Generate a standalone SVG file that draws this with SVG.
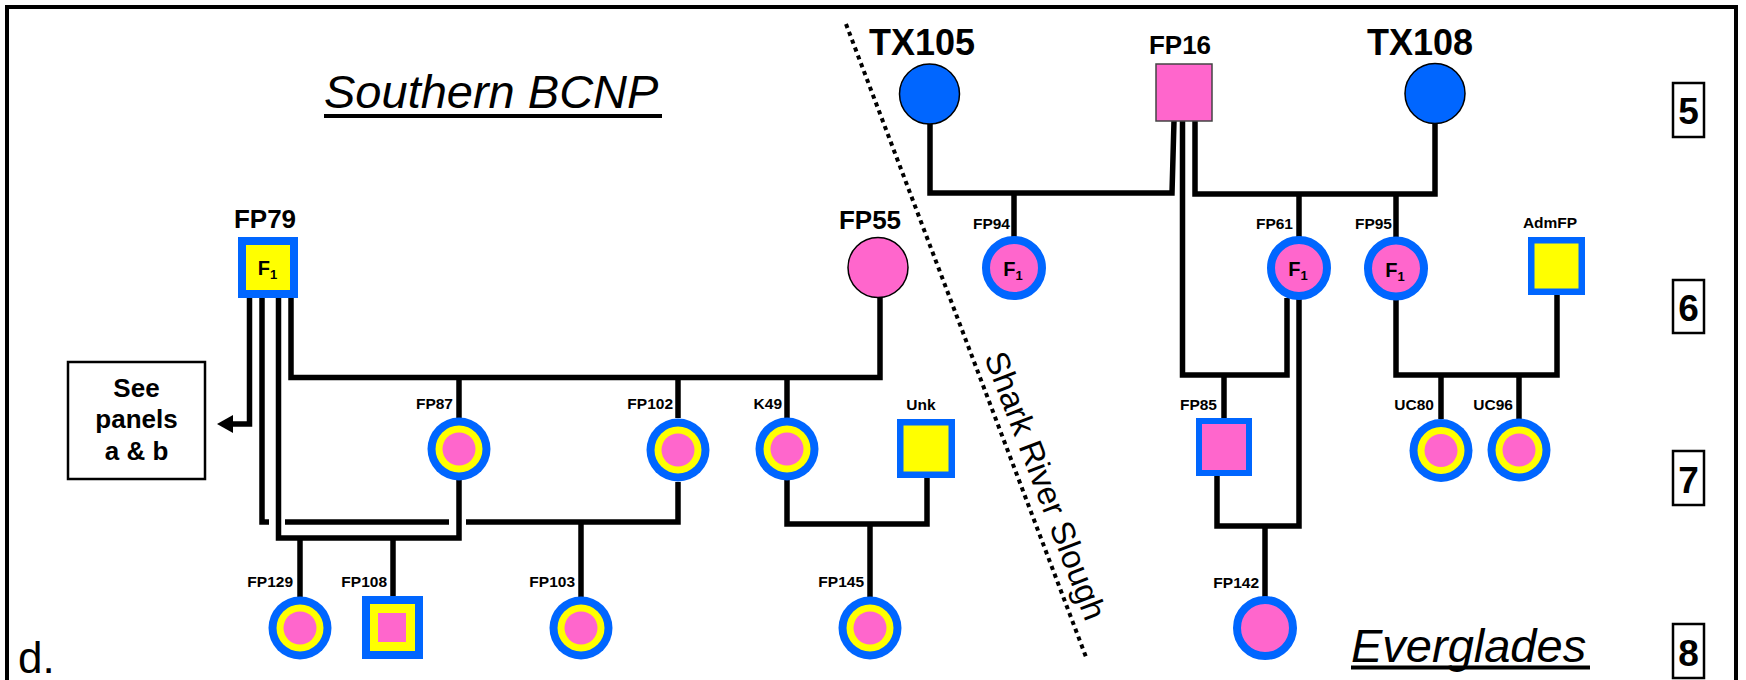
<svg xmlns="http://www.w3.org/2000/svg" xmlns:xlink="http://www.w3.org/1999/xlink" width="1746" height="680" viewBox="0 0 1746 680">
<style>
.ln{fill:none;stroke:#000;stroke-width:5.5;stroke-linejoin:miter;stroke-linecap:butt}
.t{font-family:"Liberation Sans",Arial,sans-serif;fill:#000}
.lbl{font-weight:bold;font-size:15.5px}
.big{font-weight:bold;font-size:26px}
.huge{font-weight:bold;font-size:36px}
.f1{font-weight:bold;font-size:20px}
.sub{font-size:13px}
.gen{font-weight:bold;font-size:37px}
.title{font-style:italic;font-size:47px}
.sq{fill:#FFFF00;stroke:#0066FF}
.box{fill:#fff;stroke:#000;stroke-width:2.5}
</style>
<defs>
<g id="ring3"><circle r="31.5" fill="#0066FF"/><circle r="23.5" fill="#FFFF00"/><circle r="16.5" fill="#FF66CC"/></g>
<g id="f1c"><circle r="28" fill="#FF66CC" stroke="#0066FF" stroke-width="8"/></g>
<marker id="arrow" markerUnits="userSpaceOnUse" markerWidth="17" markerHeight="19" refX="4" refY="9" orient="auto"><path d="M0,0 L16,9 L0,18 z" fill="#000"/></marker>
</defs>
<rect x="0" y="0" width="1746" height="680" fill="#fff"/>
<rect x="7" y="7" width="1729" height="700" fill="none" stroke="#000" stroke-width="4"/>

<g id="labels">
<text class="t title" x="324" y="108">Southern BCNP</text>
<rect x="324" y="114" width="338" height="4" fill="#000"/>
<text class="t title" x="1351" y="662">Everglades</text>
<rect x="1351" y="665.5" width="239" height="4" fill="#000"/>
<text class="t" x="18" y="673" font-size="44">d.</text>
<line x1="846" y1="24" x2="1086" y2="657" stroke="#000" stroke-width="4" stroke-dasharray="4.2 4.2"/>
<text class="t" font-size="33" transform="translate(984,357) rotate(69)">Shark River Slough</text>
</g>

<g id="generations">
<rect class="box" x="1673" y="83" width="31" height="54"/><text class="t gen" x="1688.5" y="124" text-anchor="middle">5</text>
<rect class="box" x="1673" y="280" width="31" height="53"/><text class="t gen" x="1688.5" y="321" text-anchor="middle">6</text>
<rect class="box" x="1673" y="451" width="31" height="54"/><text class="t gen" x="1688.5" y="493" text-anchor="middle">7</text>
<rect class="box" x="1673" y="624" width="31" height="54"/><text class="t gen" x="1688.5" y="666" text-anchor="middle">8</text>
</g>

<g id="connectors">
<path class="ln" d="M249.5,298 V424 H229" marker-end="url(#arrow)"/>
<path class="ln" d="M262,298 V522 H269"/>
<path class="ln" d="M285,522 H449"/>
<path class="ln" d="M466,522 H678 V482"/>
<path class="ln" d="M278.5,298 V538 H459 V480"/>
<path class="ln" d="M291,298 V377.5 H880 V297"/>
<path class="ln" d="M459,377.5 V418"/>
<path class="ln" d="M678,377.5 V418"/>
<path class="ln" d="M787,377.5 V418"/>
<path class="ln" d="M581,522 V597"/>
<path class="ln" d="M300,538 V597"/>
<path class="ln" d="M393,538 V596"/>
<path class="ln" d="M787,480 V524 H927 V478"/>
<path class="ln" d="M870,524 V597"/>
<path class="ln" d="M1174,121 L1172,193 H930 V124"/>
<path class="ln" d="M1182.5,121 V375 H1287 V298"/>
<path class="ln" d="M1195,121 V194 H1435 V123"/>
<path class="ln" d="M1014,193 V237"/>
<path class="ln" d="M1299,194 V237"/>
<path class="ln" d="M1396,194 V237"/>
<path class="ln" d="M1299,299 V526 H1217 V476"/>
<path class="ln" d="M1224,375 V418"/>
<path class="ln" d="M1265,526 V597"/>
<path class="ln" d="M1396,300 V375 H1557 V295"/>
<path class="ln" d="M1441,375 V419"/>
<path class="ln" d="M1519,375 V419"/>
</g>

<g id="seepanels">
<rect class="box" x="68" y="362" width="137" height="117"/>
<text class="t big" x="136.5" y="397" text-anchor="middle">See</text>
<text class="t big" x="136.5" y="428" text-anchor="middle">panels</text>
<text class="t big" x="136.5" y="460" text-anchor="middle">a &amp; b</text>
</g>

<g id="FP79">
<rect class="sq" x="242" y="241" width="52" height="53" stroke-width="8"/>
<text class="t big" x="265" y="228" text-anchor="middle">FP79</text>
<text class="t f1" x="267.5" y="275" text-anchor="middle">F<tspan class="sub" dy="4">1</tspan></text>
</g>
<g id="FP55">
<circle cx="878" cy="267.5" r="30" fill="#FF66CC" stroke="#000" stroke-width="1.5"/>
<text class="t big" x="870" y="229" text-anchor="middle">FP55</text>
</g>
<g id="FP87"><use xlink:href="#ring3" x="459" y="449"/><text class="t lbl" x="453" y="409" text-anchor="end">FP87</text></g>
<g id="FP102"><use xlink:href="#ring3" x="678" y="450"/><text class="t lbl" x="673" y="409" text-anchor="end">FP102</text></g>
<g id="K49"><use xlink:href="#ring3" x="787" y="449"/><text class="t lbl" x="782" y="409" text-anchor="end">K49</text></g>
<g id="Unk">
<rect class="sq" x="900.25" y="422.25" width="51.5" height="52.5" stroke-width="6.5"/>
<text class="t lbl" x="921" y="410" text-anchor="middle">Unk</text>
</g>
<g id="FP129"><use xlink:href="#ring3" x="300" y="628"/><text class="t lbl" x="293" y="587" text-anchor="end">FP129</text></g>
<g id="FP108">
<rect class="sq" x="366" y="600" width="53" height="55" stroke-width="8"/>
<rect x="378" y="613" width="28" height="29" fill="#FF66CC"/>
<text class="t lbl" x="387" y="587" text-anchor="end">FP108</text>
</g>
<g id="FP103"><use xlink:href="#ring3" x="581" y="628"/><text class="t lbl" x="575" y="587" text-anchor="end">FP103</text></g>
<g id="FP145"><use xlink:href="#ring3" x="870" y="628"/><text class="t lbl" x="864" y="587" text-anchor="end">FP145</text></g>

<g id="TX105">
<circle cx="929.5" cy="94" r="30" fill="#0066FF" stroke="#000" stroke-width="1.5"/>
<text class="t huge" x="922" y="55" text-anchor="middle">TX105</text>
</g>
<g id="FP16">
<rect x="1156" y="64" width="56" height="57" fill="#FF66CC" stroke="#444" stroke-width="1.5"/>
<text class="t big" x="1180" y="54" text-anchor="middle">FP16</text>
</g>
<g id="TX108">
<circle cx="1435" cy="93.5" r="30" fill="#0066FF" stroke="#000" stroke-width="1.5"/>
<text class="t huge" x="1420" y="55" text-anchor="middle">TX108</text>
</g>
<g id="FP94">
<use xlink:href="#f1c" x="1014" y="268"/>
<text class="t f1" x="1013" y="276" text-anchor="middle">F<tspan class="sub" dy="4">1</tspan></text>
<text class="t lbl" x="1010" y="229" text-anchor="end">FP94</text>
</g>
<g id="FP61">
<use xlink:href="#f1c" x="1299" y="268"/>
<text class="t f1" x="1298" y="276" text-anchor="middle">F<tspan class="sub" dy="4">1</tspan></text>
<text class="t lbl" x="1293" y="229" text-anchor="end">FP61</text>
</g>
<g id="FP95">
<use xlink:href="#f1c" x="1396" y="268.5"/>
<text class="t f1" x="1395" y="276.5" text-anchor="middle">F<tspan class="sub" dy="4">1</tspan></text>
<text class="t lbl" x="1392" y="229" text-anchor="end">FP95</text>
</g>
<g id="AdmFP">
<rect class="sq" x="1531.25" y="240.25" width="50.5" height="51.5" stroke-width="6.5"/>
<text class="t lbl" x="1550" y="228" text-anchor="middle">AdmFP</text>
</g>
<g id="FP85">
<rect x="1199" y="421" width="50" height="52" fill="#FF66CC" stroke="#0066FF" stroke-width="6"/>
<text class="t lbl" x="1217" y="410" text-anchor="end">FP85</text>
</g>
<g id="UC80"><use xlink:href="#ring3" x="1441" y="450.5"/><text class="t lbl" x="1434" y="410" text-anchor="end">UC80</text></g>
<g id="UC96"><use xlink:href="#ring3" x="1519" y="450"/><text class="t lbl" x="1513" y="410" text-anchor="end">UC96</text></g>
<g id="FP142">
<circle cx="1265" cy="628" r="28" fill="#FF66CC" stroke="#0066FF" stroke-width="8"/>
<text class="t lbl" x="1259" y="588" text-anchor="end">FP142</text>
</g>
</svg>
